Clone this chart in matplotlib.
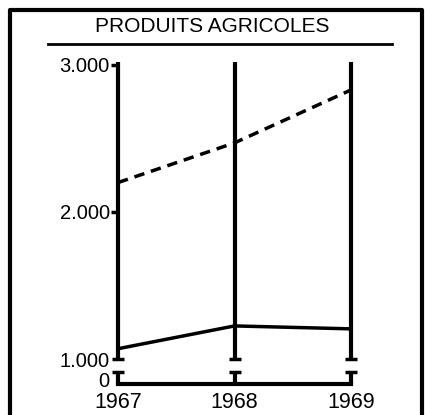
import matplotlib
matplotlib.use('Agg')
import matplotlib.pyplot as plt
from matplotlib.lines import Line2D

# data
years = [1967, 1968, 1969]
dashed_vals = [2200, 2470, 2830]
solid_vals = [1070, 1225, 1205]

# broken axis: 0 is drawn just under the break
tick_vals = [862, 1000, 2000, 3000]
tick_labels = ['0', '1.000', '2.000', '3.000']
break_top = 1000
break_bottom = 912

plt.rcParams['font.family'] = ['Liberation Sans', 'DejaVu Sans']

W, H = 425, 415
fig = plt.figure(figsize=(W / 100, H / 100), dpi=100)
ax = fig.add_axes([118 / W, 1 - 384 / H, 233 / W, 322 / H])
ax.set_xlim(1967, 1969)
ax.set_ylim(830, 3020)

# vertical year lines, broken near the bottom
for yr in years:
    ax.vlines(yr, break_top, 3020, color='black', lw=3, clip_on=False)
    ax.vlines(yr, 830, break_bottom, color='black', lw=3, clip_on=False)
ax.plot(years, [break_top] * 3, ls='none', marker='_', ms=9, mew=2.5,
        color='black', clip_on=False)
ax.plot(years, [break_bottom] * 3, ls='none', marker='_', ms=9, mew=2.5,
        color='black', clip_on=False)

# series
ax.plot(years, dashed_vals, color='black', lw=2.5, ls=(0, (3, 2)), clip_on=False)
ax.plot(years, solid_vals, color='black', lw=2.5, clip_on=False)

for s in ['top', 'left', 'right']:
    ax.spines[s].set_visible(False)
ax.spines['bottom'].set_linewidth(3)

ax.set_xticks(years)
ax.set_xticklabels([str(y) for y in years], fontsize=15.5)
ax.tick_params(axis='x', length=0, pad=6)

ax.set_yticks(tick_vals)
ax.set_yticklabels(tick_labels, fontsize=14.5)
ax.tick_params(axis='y', length=5, width=2.5, pad=1)
for i in (0, 1):
    ax.yaxis.get_major_ticks()[i].tick1line.set_visible(False)

# title, underline and frame
fig.text(212 / W, 1 - 27 / H, 'PRODUITS AGRICOLES', ha='center', va='center',
         fontsize=15)
fig.add_artist(Line2D([48 / W, 392 / W], [1 - 44 / H] * 2, color='black', lw=2))
fig.add_artist(Line2D([10 / W, 10 / W, 422 / W, 422 / W],
                      [0, 1 - 10 / H, 1 - 10 / H, 0], color='black', lw=3))

fig.savefig('out.png', dpi=100)
